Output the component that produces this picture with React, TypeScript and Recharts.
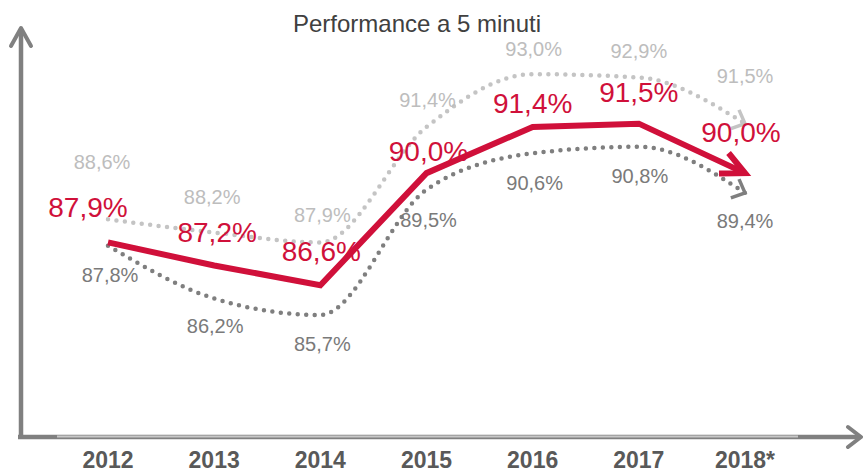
import React from 'react';
import { LineChart, Line, XAxis, YAxis, LabelList, Customized } from 'recharts';

const years = ['2012', '2013', '2014', '2015', '2016', '2017', '2018*'];
const mainValues = [87.9, 87.2, 86.6, 90.0, 91.4, 91.5, 90.0];
const upperValues = [88.6, 88.2, 87.9, 91.4, 93.0, 92.9, 91.5];
const lowerValues = [87.8, 86.2, 85.7, 89.5, 90.6, 90.8, 89.4];

const data = years.map((year, i) => ({
  year,
  main: mainValues[i],
  upper: upperValues[i],
  lower: lowerValues[i],
}));

// label offsets (dx, dy) relative to each point
const mainLabelOffsets = [[-20, -35], [3, -33], [1, -34], [2, -22], [0, -23], [0, -31], [-4, -41]];
const upperLabelOffsets = [[-6, -57], [-2, -36], [2, -27], [1, -27], [1, -25], [0, -26], [0, -48]];
const lowerLabelOffsets = [[2, 29], [1, 28], [2, 29], [2, 30], [2, 30], [1, 29], [0, 28]];

const RED = '#d0103a';
const LIGHT = '#c4c4c4';
const DARK = '#7f7f7f';
const AXIS = '#808080';
const FONT = '"Liberation Sans", Arial, sans-serif';

const W = 863;
const H = 472;
const M = { top: 28, right: 5, bottom: 5, left: 21 };
const AXIS_Y = H - M.bottom - 30;

const fmt = (v: number) => v.toFixed(1).replace('.', ',') + '%';

const makeLabel = (offsets: number[][], color: string, size: number) => (props: any) => {
  const { x, y, value, index } = props;
  const off = offsets[index] || [0, 0];
  return (
    <text
      x={Number(x) + off[0]}
      y={Number(y) + off[1]}
      textAnchor="middle"
      dominantBaseline="central"
      fill={color}
      fontSize={size}
      fontFamily={FONT}
    >
      {fmt(Number(value))}
    </text>
  );
};

const makeArrowDot = (color: string, len: number, spread: number, width: number) => {
  let prev: { x: number; y: number } | null = null;
  return (props: any) => {
    const { cx, cy, index } = props;
    if (index < data.length - 1) {
      prev = { x: cx, y: cy };
      return <g key={`d-${index}`} />;
    }
    const p = prev || { x: cx - 1, y: cy };
    const ang = Math.atan2(cy - p.y, cx - p.x);
    const a1 = ang + Math.PI - spread;
    const a2 = ang + Math.PI + spread;
    const d = `M${cx + len * Math.cos(a1)},${cy + len * Math.sin(a1)} L${cx},${cy} L${cx + len * Math.cos(a2)},${cy + len * Math.sin(a2)}`;
    return (
      <path
        key={`d-${index}`}
        d={d}
        stroke={color}
        strokeWidth={width}
        fill="none"
        strokeLinecap="butt"
        strokeLinejoin="miter"
      />
    );
  };
};

const mainDot = makeArrowDot(RED, 26, 0.45, 6);
const upperDot = makeArrowDot(LIGHT, 15, 0.75, 3.5);
const lowerDot = makeArrowDot(DARK, 15, 0.75, 3.5);

const YearTick = (props: any) => {
  const { x, y, payload } = props;
  return (
    <text
      x={x}
      y={Number(y) + 31}
      textAnchor="middle"
      fill="#595959"
      fontSize={23}
      fontWeight="bold"
      fontFamily={FONT}
    >
      {payload.value}
    </text>
  );
};

const Decor = () => {
  const x0 = M.left;
  const yTop = M.top;
  return (
    <g>
      <text x={417} y={32} textAnchor="middle" fill="#404040" fontSize={24} fontFamily={FONT}>
        Performance a 5 minuti
      </text>
      {/* y axis */}
      <line x1={x0} y1={yTop + 2} x2={x0} y2={AXIS_Y + 2} stroke={AXIS} strokeWidth={4.5} />
      <path
        d={`M${x0 - 10},${yTop + 18} L${x0},${yTop} L${x0 + 10},${yTop + 18}`}
        stroke={AXIS}
        strokeWidth={4}
        fill="none"
        strokeLinecap="round"
        strokeLinejoin="round"
      />
      {/* x axis */}
      <line x1={x0 - 3} y1={AXIS_Y} x2={W - 3} y2={AXIS_Y} stroke={AXIS} strokeWidth={4.5} />
      <line x1={57} y1={AXIS_Y - 0.5} x2={798} y2={AXIS_Y - 0.5} stroke="#c8c8c8" strokeWidth={2} />
      <path
        d={`M${W - 15},${AXIS_Y - 10} L${W - 2},${AXIS_Y} L${W - 15},${AXIS_Y + 10}`}
        stroke={AXIS}
        strokeWidth={4}
        fill="none"
        strokeLinecap="round"
        strokeLinejoin="round"
      />
    </g>
  );
};

export default function App() {
  return (
    <div style={{ position: 'absolute', left: 0, top: 0, width: W, height: H, background: '#fff' }}>
      <LineChart width={W} height={H} data={data} margin={M}>
        <Customized component={Decor} />
        <XAxis
          dataKey="year"
          scale="point"
          padding={{ left: 87, right: 113 }}
          axisLine={false}
          tickLine={false}
          tickSize={0}
          tickMargin={0}
          interval={0}
          height={30}
          tick={<YearTick />}
        />
        <YAxis hide type="number" domain={[82, 94.4]} />
        <Line
          type="monotone"
          dataKey="upper"
          stroke={LIGHT}
          strokeWidth={4.5}
          strokeDasharray="0 8.5"
          strokeLinecap="round"
          dot={upperDot}
          activeDot={false}
          isAnimationActive={false}
        >
          <LabelList dataKey="upper" content={makeLabel(upperLabelOffsets, '#bdbdbd', 20)} />
        </Line>
        <Line
          type="monotone"
          dataKey="lower"
          stroke={DARK}
          strokeWidth={4.5}
          strokeDasharray="0 8.5"
          strokeLinecap="round"
          dot={lowerDot}
          activeDot={false}
          isAnimationActive={false}
        >
          <LabelList dataKey="lower" content={makeLabel(lowerLabelOffsets, '#7a7a7a', 20)} />
        </Line>
        <Line
          type="linear"
          dataKey="main"
          stroke={RED}
          strokeWidth={6}
          dot={mainDot}
          activeDot={false}
          isAnimationActive={false}
        >
          <LabelList dataKey="main" content={makeLabel(mainLabelOffsets, RED, 28)} />
        </Line>
      </LineChart>
    </div>
  );
}
